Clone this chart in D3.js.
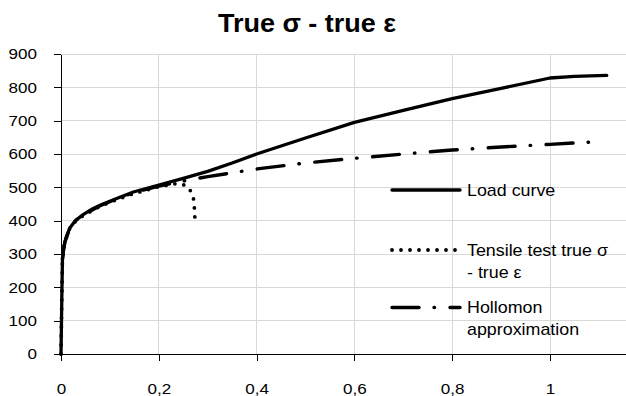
<!DOCTYPE html>
<html><head><meta charset="utf-8">
<script src="https://cdn.jsdelivr.net/npm/d3@7"></script>
<style>
body{margin:0;background:#fff}
svg{display:block}
text{font-family:"Liberation Sans",Arial,sans-serif;fill:#000}
</style>
</head><body>
<svg id="c" width="626" height="396"></svg>
<script>
// ---- data ----
const chartTitle = "True σ - true ε";
const xTickValues = [0, 0.2, 0.4, 0.6, 0.8, 1];
const yTickValues = [0, 100, 200, 300, 400, 500, 600, 700, 800, 900];
const seriesNames = ["Load curve", "Tensile test true σ - true ε", "Hollomon approximation"];
const legendLines = [["Load curve"], ["Tensile test true σ", "- true ε"], ["Hollomon", "approximation"]];

const loadStrain = [0, 0.001, 0.002, 0.003, 0.005, 0.008, 0.012, 0.018, 0.03, 0.046, 0.065, 0.08, 0.11, 0.148, 0.2, 0.25, 0.3, 0.35, 0.4, 0.5, 0.6, 0.7, 0.8, 0.9, 1.0, 1.05, 1.116];
const loadStress = [0, 100, 200, 285, 312, 337, 356, 378, 401, 419, 436, 446, 464, 486, 507, 527, 548, 573, 600, 648, 695, 731, 766, 797, 828, 833, 836];

const tensileStrain = [0, 0.001, 0.002, 0.003, 0.005, 0.008, 0.018, 0.03, 0.046, 0.08, 0.11, 0.148, 0.2, 0.235, 0.25, 0.258, 0.266, 0.271, 0.273, 0.274];
const tensileStress = [0, 100, 200, 287, 313, 337, 377, 399, 416, 443, 461, 481, 502, 511, 508, 503, 487, 465, 435, 401];

const hollomonStrain = [0.003, 0.005, 0.008, 0.018, 0.03, 0.046, 0.08, 0.11, 0.148, 0.2, 0.25, 0.3, 0.4, 0.5, 0.6, 0.7, 0.8, 0.9, 1.0, 1.11];
const hollomonStress = [285, 311, 336, 377, 400, 418, 445, 463, 484, 504, 519, 532, 555, 573, 587, 600, 612, 621, 629, 638];

// ---- layout ----
const svg = d3.select("#c");
const X0 = 61, XU = 489, Y0 = 354, Y900 = 54;
const x = d3.scaleLinear().domain([0, 1.2]).range([X0, X0 + XU * 1.2]);
const y = d3.scaleLinear().domain([0, 900]).range([Y0, Y900]);
const SX = 1.1;

// gridlines
const grid = svg.append("g");
grid.selectAll("line.h").data(yTickValues.filter(d => d > 0)).join("line")
  .attr("x1", x(0)).attr("x2", x(1.2)).attr("y1", d => y(d)).attr("y2", d => y(d))
  .attr("stroke", "#d9d9d9").attr("stroke-width", 1).attr("shape-rendering", "crispEdges");
grid.selectAll("line.v").data(xTickValues.filter(d => d > 0)).join("line")
  .attr("x1", d => x(d)).attr("x2", d => x(d)).attr("y1", y(0)).attr("y2", y(900))
  .attr("stroke", "#d9d9d9").attr("stroke-width", 1).attr("shape-rendering", "crispEdges");

// axes
const yAxis = svg.append("g").attr("transform", `translate(${X0},0)`)
  .call(d3.axisLeft(y).tickValues(yTickValues).tickSize(7).tickPadding(17).tickSizeOuter(0).tickFormat(d3.format("d")));
const xAxis = svg.append("g").attr("transform", `translate(0,${Y0})`)
  .call(d3.axisBottom(x).tickValues(xTickValues).tickSize(7).tickPadding(22).tickSizeOuter(0)
    .tickFormat(d => d === 0 ? "0" : (d === 1 ? "1" : String(d).replace(".", ","))));
[yAxis, xAxis].forEach(a => {
  a.attr("font-family", null).attr("font-size", null);
  a.select(".domain").attr("stroke", "#000").attr("shape-rendering", "crispEdges");
  a.selectAll(".tick line").attr("stroke", "#000").attr("shape-rendering", "crispEdges");
  a.selectAll("text").attr("font-size", 15.5).attr("fill", "#000");
});
yAxis.selectAll(".tick text").each(function() {
  const t = d3.select(this); const tx = +t.attr("x");
  t.attr("x", 0).attr("transform", `translate(${tx},0) scale(${SX},1)`);
});
xAxis.selectAll(".tick text").attr("transform", `scale(${SX},1)`);

// curves
const line = d3.line().x(d => x(d[0])).y(d => y(d[1]));
const loadData = d3.zip(loadStrain, loadStress);
const tensileData = d3.zip(tensileStrain, tensileStress);
const hollData = d3.zip(hollomonStrain, hollomonStress);

const styles = [
  {w: 3.3, dash: null},
  {w: 3.8, dash: "0 9"},
  {w: 3.4, dash: "27 15 0.5 15.5"}
];

svg.append("path").datum(hollData).attr("d", line).attr("fill", "none").attr("stroke", "#000")
  .attr("stroke-width", styles[2].w).attr("stroke-dasharray", styles[2].dash).attr("stroke-linecap", "round").attr("stroke-linejoin", "round");
svg.append("path").datum(tensileData).attr("d", line).attr("fill", "none").attr("stroke", "#000")
  .attr("stroke-width", styles[1].w).attr("stroke-dasharray", styles[1].dash).attr("stroke-linecap", "round").attr("stroke-linejoin", "round");
svg.append("path").datum(loadData).attr("d", line).attr("fill", "none").attr("stroke", "#000")
  .attr("stroke-width", styles[0].w).attr("stroke-linecap", "round").attr("stroke-linejoin", "round");

// legend
const legendY = [190, 250, 307.5];
const lg = svg.append("g");
legendLines.forEach((lines, i) => {
  const g = lg.append("g");
  g.append("line").attr("x1", 392).attr("x2", 460).attr("y1", legendY[i]).attr("y2", legendY[i])
    .attr("stroke", "#000").attr("stroke-width", styles[i].w)
    .attr("stroke-dasharray", styles[i].dash).attr("stroke-linecap", "round");
  lines.forEach((s, j) => {
    g.append("text").attr("transform", `translate(467,${legendY[i] + j * 22}) scale(1.05,1)`)
      .attr("dy", "0.35em").attr("font-size", 17).text(s);
  });
});

// title
svg.append("text").attr("transform", `translate(307,31.5) scale(1.08,1)`)
  .attr("text-anchor", "middle").attr("font-size", 25).attr("font-weight", "bold").text(chartTitle);
</script>
</body></html>
